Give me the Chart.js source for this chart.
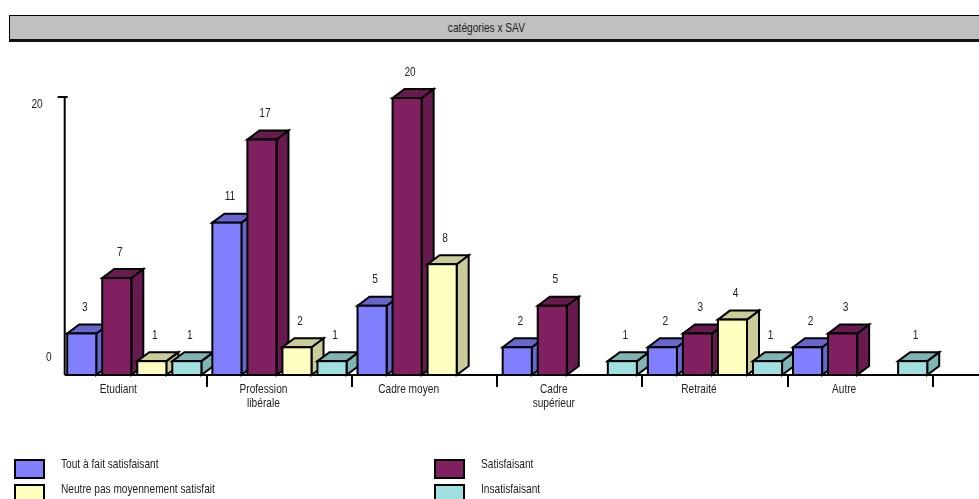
<!DOCTYPE html>
<html>
<head>
<meta charset="utf-8">
<script src="https://cdn.jsdelivr.net/npm/chart.js"></script>
<style>
  html, body { margin: 0; padding: 0; background: #fff; overflow: hidden; }
  body { width: 979px; height: 499px; position: relative; font-family: "Liberation Sans", Arial, sans-serif; color: #222; }
  #c { position: absolute; left: 0; top: 0; }
  #title { position: absolute; left: 9px; top: 15px; width: 1000px; height: 23px; background: #c0c0c0; border-top: 1px solid #000; border-left: 1px solid #000; border-bottom: 3px solid #111; }
  #title span { position: absolute; left: 0; width: 952px; top: 0; line-height: 24px; text-align: center; font-size: 13px; }
  #title span em { font-style: normal; display: inline-block; transform: scaleX(0.78); }
  .lg { position: absolute; font-size: 13px; }
  .lg i { position: absolute; left: 0; width: 27px; height: 16px; border: 2px solid #000; }
  .lg b { position: absolute; font-weight: normal; white-space: nowrap; transform: scaleX(0.78); transform-origin: left center; }
</style>
</head>
<body>
<canvas id="c" width="979" height="499"></canvas>
<div id="title"><span><em>catégories x SAV</em></span></div>
<div id="legend"></div>
<script>
// données
const categories = ['Etudiant', ['Profession', 'libérale'], 'Cadre moyen', ['Cadre', 'supérieur'], 'Retraité', 'Autre'];
const seriesNames = ['Tout à fait satisfaisant', 'Satisfaisant', 'Neutre pas moyennement satisfait', 'Insatisfaisant'];
const toutAFait = [3, 11, 5, 2, 2, 2];
const satisfaisant = [7, 17, 20, 5, 3, 3];
const neutre = [1, 2, 8, 0, 4, 0];
const insatisfaisant = [1, 1, 0, 1, 1, 1];
const yTicks = [0, 20];

const frontColors = ['#8080ff', '#802060', '#ffffc0', '#a0e0e0'];
const sideColors = ['#6666cc', '#661a4d', '#cccc9a', '#80b3b3'];
const FONT = '13px "Liberation Sans", Arial, sans-serif';
const NARROW = 0.78;
const DX = 12, DY = -9;

// texte "étroit" (façon Arial Narrow)
function narrowText(ctx, text, x, y, align) {
    ctx.save();
    ctx.translate(x, y);
    ctx.scale(NARROW, 1);
    ctx.font = FONT;
    ctx.fillStyle = '#222';
    ctx.textAlign = align;
    ctx.textBaseline = 'middle';
    ctx.fillText(text, 0, 0);
    ctx.restore();
}

// légende en HTML, deux colonnes
const legendPos = [[14, 459], [434, 459], [14, 484], [434, 484]];
const legendEl = document.getElementById('legend');
seriesNames.forEach((name, i) => {
    const d = document.createElement('div');
    d.className = 'lg';
    d.style.left = legendPos[i][0] + 'px';
    d.style.top = legendPos[i][1] + 'px';
    d.innerHTML = '<i style="background:' + frontColors[i] + '"></i><b style="left:47px;top:-3px">' + name + '</b>';
    legendEl.appendChild(d);
});

const axesPlugin = {
    id: 'axes3d',
    beforeDatasetsDraw(chart) {
        const ctx = chart.ctx;
        const xs = chart.scales.x, ys = chart.scales.y;
        const base = ys.getPixelForValue(0);
        const top = ys.getPixelForValue(20);
        const axisX = xs.left + 3;
        const catW = xs.getPixelForValue(1) - xs.getPixelForValue(0);
        ctx.save();
        ctx.strokeStyle = '#000';
        ctx.lineWidth = 2;
        ctx.beginPath();
        ctx.moveTo(axisX, base);
        ctx.lineTo(chart.width, base);
        ctx.moveTo(axisX, base);
        ctx.lineTo(axisX, top - 1);
        ctx.moveTo(axisX - 7, top - 1);
        ctx.lineTo(axisX + 3, top - 1);
        for (let i = 1; i <= categories.length; i++) {
            const bx = Math.round(xs.getPixelForValue(i) - catW / 2);
            ctx.moveTo(bx, base);
            ctx.lineTo(bx, base + 12);
        }
        ctx.stroke();
        ctx.restore();
        // étiquettes de l'axe des valeurs
        yTicks.forEach(v => {
            const py = ys.getPixelForValue(v);
            if (v === 0) narrowText(ctx, String(v), axisX - 13, py - 18, 'right');
            else narrowText(ctx, String(v), axisX - 22, py + 6, 'right');
        });
        // étiquettes des catégories
        chart.data.labels.forEach((label, i) => {
            const cx = xs.getPixelForValue(i) - 16;
            [].concat(label).forEach((line, k) => narrowText(ctx, line, cx, base + 14 + k * 14, 'center'));
        });
    },
    afterDatasetsDraw(chart) {
        const ctx = chart.ctx;
        ctx.save();
        ctx.lineWidth = 2;
        ctx.strokeStyle = '#000';
        ctx.lineJoin = 'miter';
        for (let i = 0; i < categories.length; i++) {
            for (let d = 0; d < chart.data.datasets.length; d++) {
                const val = chart.data.datasets[d].data[i];
                if (!val) continue;
                const el = chart.getDatasetMeta(d).data[i];
                const l = el.x - el.width / 2, r = el.x + el.width / 2;
                const t = el.y, b = el.base;
                // face latérale
                ctx.fillStyle = sideColors[d];
                ctx.beginPath();
                ctx.moveTo(r, t); ctx.lineTo(r + DX, t + DY); ctx.lineTo(r + DX, b + DY); ctx.lineTo(r, b);
                ctx.closePath(); ctx.fill(); ctx.stroke();
                // dessus
                ctx.beginPath();
                ctx.moveTo(l, t); ctx.lineTo(l + DX, t + DY); ctx.lineTo(r + DX, t + DY); ctx.lineTo(r, t);
                ctx.closePath(); ctx.fill(); ctx.stroke();
                // face avant
                ctx.fillStyle = frontColors[d];
                ctx.fillRect(l, t, r - l, b - t);
                ctx.strokeRect(l, t, r - l, b - t);
                // valeur
                narrowText(ctx, String(val), el.x + 3, t - 26, 'center');
            }
        }
        ctx.restore();
    }
};

new Chart(document.getElementById('c'), {
    type: 'bar',
    data: {
        labels: categories,
        datasets: [toutAFait, satisfaisant, neutre, insatisfaisant].map((arr, i) => ({
            label: seriesNames[i],
            data: arr,
            backgroundColor: 'rgba(0,0,0,0)',
            borderWidth: 0,
            categoryPercentage: 0.9655,
            barPercentage: 0.83
        }))
    },
    options: {
        responsive: false,
        animation: false,
        events: [],
        layout: { padding: { left: 61.7, right: 46.3, top: 98, bottom: 84 } },
        plugins: { legend: { display: false }, tooltip: { enabled: false } },
        scales: {
            x: {
                grid: { display: false, drawTicks: false },
                border: { display: false },
                ticks: { display: false },
                afterFit(s) { s.height = 40; }
            },
            y: { display: false, min: 0, max: 20 }
        }
    },
    plugins: [axesPlugin]
});
</script>
</body>
</html>
